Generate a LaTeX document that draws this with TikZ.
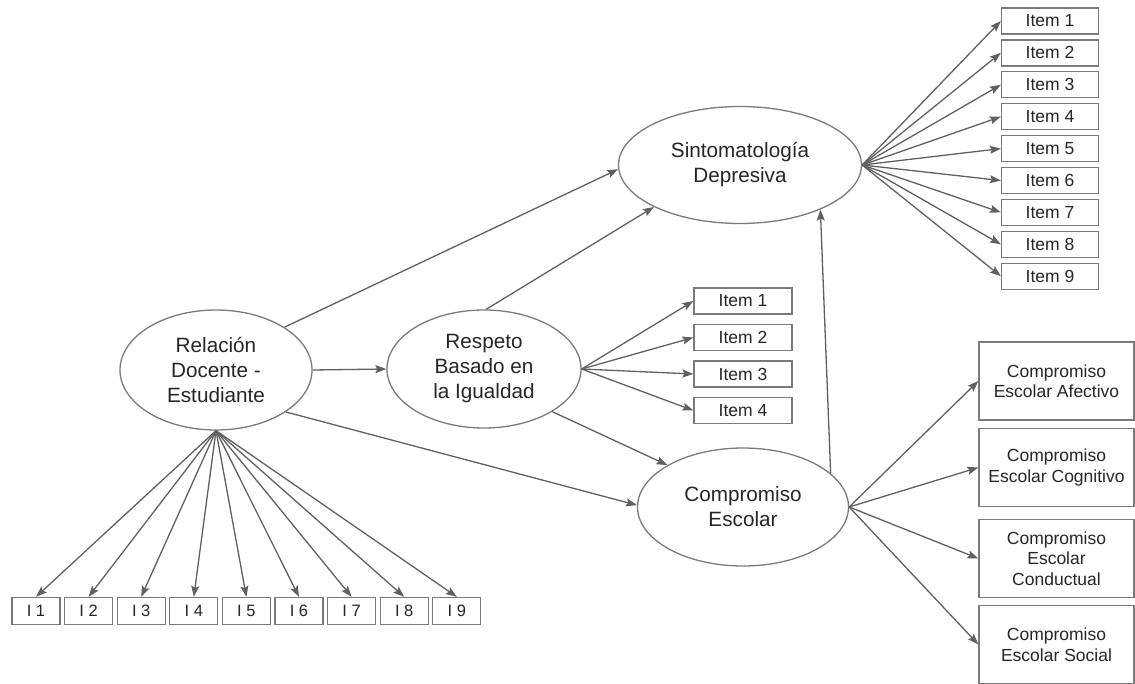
\documentclass[tikz,border=0pt]{standalone}
\usepackage{fontspec}
\setmainfont{Liberation Sans}
\usetikzlibrary{arrows.meta,shapes.geometric}

\definecolor{ln}{HTML}{606060}
\definecolor{bd}{HTML}{7A7A7A}
\definecolor{tx}{HTML}{262626}

\begin{document}
\begin{tikzpicture}[x=1pt,y=-1pt,
  latent/.style={ellipse, draw=bd, line width=1.3pt, inner sep=0pt, align=center,
    text=tx, font=\fontsize{20.7}{25}\selectfont},
  itembox/.style={rectangle, draw=bd, line width=1.3pt, inner sep=0pt,
    minimum width=97pt, minimum height=26pt, text=tx, font=\fontsize{17.5}{19}\selectfont},
  smallbox/.style={rectangle, draw=bd, line width=1.3pt, inner sep=0pt,
    minimum width=48pt, minimum height=27pt, text=tx, font=\fontsize{16.5}{19}\selectfont},
  dimbox/.style={rectangle, draw=bd, line width=1.3pt, inner sep=2pt, align=center,
    minimum width=155pt, minimum height=78pt, text=tx, font=\fontsize{17.5}{20.5}\selectfont},
  arr/.style={draw=ln, line width=1.3pt, -{Stealth[length=11pt,width=8pt,inset=2pt]}}
]
\useasboundingbox (0,0) rectangle (1135,684);

% latent constructs
\node[latent, minimum width=192pt, minimum height=120pt] (rel) at (216,370) {Relación\\Docente -\\Estudiante};
\node[latent, minimum width=243pt, minimum height=117pt] (sin) at (740,165) {Sintomatología\\Depresiva};
\node[latent, minimum width=194pt, minimum height=118pt] (res) at (484,369) {Respeto\\Basado en\\la Igualdad};
\node[latent, minimum width=211pt, minimum height=118pt] (com) at (743,507) {Compromiso\\Escolar};

% indicators of Sintomatología Depresiva
\foreach \i in {1,...,9} {
  \node[itembox] (s\i) at (1050,{21+(\i-1)*31.9}) {Item \i};
  \draw[arr] (sin.east) -- (s\i.west);
}

% indicators of Respeto Basado en la Igualdad
\foreach \i in {1,...,4} {
  \node[itembox, minimum width=98pt] (r\i) at (743,{301+(\i-1)*36.5}) {Item \i};
  \draw[arr] (res.east) -- (r\i.west);
}

% indicators of Relación Docente - Estudiante
\foreach \i in {1,...,9} {
  \node[smallbox] (b\i) at ({36+(\i-1)*52.6},611) {I \i};
  \draw[arr] (rel.south) -- (b\i.north);
}

% dimensions of Compromiso Escolar
\node[dimbox] (c1) at (1056.5,381) {Compromiso\\Escolar Afectivo};
\node[dimbox] (c2) at (1056.5,467.5) {Compromiso\\Escolar Cognitivo};
\node[dimbox] (c3) at (1056.5,558.5) {Compromiso\\Escolar\\Conductual};
\node[dimbox] (c4) at (1056.5,644.5) {Compromiso\\Escolar Social};
\foreach \i in {1,...,4} {
  \draw[arr] (com.east) -- (c\i.west);
}

% structural paths
\draw[arr] (rel.32) -- (sin.182);
\draw[arr] (rel.east) -- (res.west);
\draw[arr] (rel.-31) -- (com.179);
\draw[arr] (res.88) -- (sin.206);
\draw[arr] (res.-32) -- (com.151);
\draw[arr] (com.21) -- (sin.-29);
\end{tikzpicture}
\end{document}
